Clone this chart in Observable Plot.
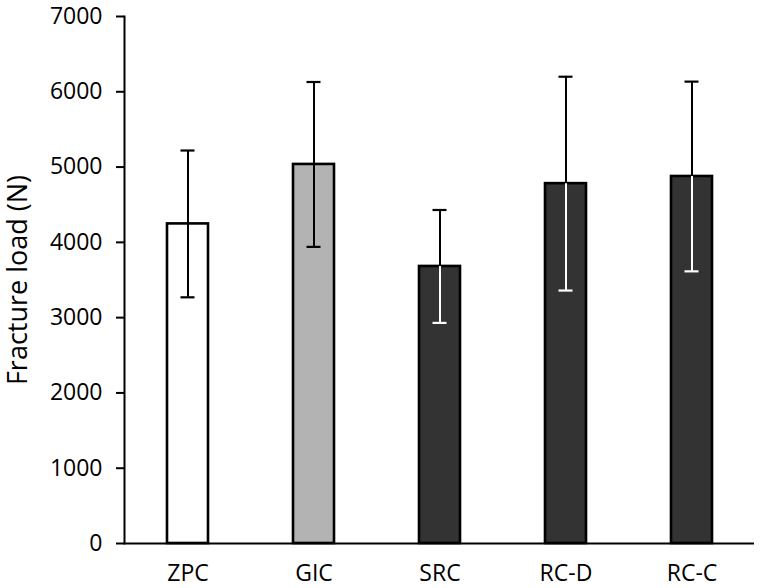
<!DOCTYPE html>
<html>
<head>
<meta charset="utf-8">
<script src="https://cdn.jsdelivr.net/npm/d3@7"></script>
<script src="https://cdn.jsdelivr.net/npm/@observablehq/plot@0.6"></script>
<style>
  html, body { margin: 0; padding: 0; background: #fff; }
  #chart { width: 760px; height: 588px; }
  svg { font-family: "Open Sans", sans-serif; overflow: visible; }
</style>
</head>
<body>
<div id="chart"></div>
<script>
const categories = ["ZPC", "GIC", "SRC", "RC-D", "RC-C"];
const means = [4245, 5035, 3680, 4780, 4875];
const sds = [975, 1095, 750, 1420, 1260];
const fills = ["#ffffff", "#b3b3b3", "#333333", "#333333", "#333333"];
const lowerBarColors = ["#000000", "#000000", "#ffffff", "#ffffff", "#ffffff"];
const yTicks = [0, 1000, 2000, 3000, 4000, 5000, 6000, 7000];
const yLabel = "Fracture load (N)";

const data = categories.map((c, i) => ({
  cat: c, mean: means[i], sd: sds[i], fill: fills[i], low: lowerBarColors[i]
}));

const chart = Plot.plot({
  width: 760,
  height: 588,
  marginTop: 16,
  marginBottom: 45,
  marginLeft: 124,
  marginRight: 6,
  style: { fontFamily: "Open Sans, sans-serif", fontSize: "23px", color: "#000", background: "#fff", overflow: "visible" },
  x: { domain: categories, paddingInner: 0.675, paddingOuter: 0.3375, label: null },
  y: { domain: [0, 7000], label: null },
  marks: [
    Plot.barY(data, { x: "cat", y: "mean", fill: "fill", stroke: "#000", strokeWidth: 2.6 }),
    Plot.ruleX(data, { x: "cat", y1: "mean", y2: d => d.mean + d.sd, stroke: "#000", strokeWidth: 2 }),
    Plot.ruleX(data, { x: "cat", y1: d => d.mean - d.sd, y2: "mean", stroke: "low", strokeWidth: 2 }),
    Plot.tickY(data, { x: "cat", y: d => d.mean + d.sd, stroke: "#000", strokeWidth: 2.2, insetLeft: 13.5, insetRight: 13.5 }),
    Plot.tickY(data, { x: "cat", y: d => d.mean - d.sd, stroke: "low", strokeWidth: 2.2, insetLeft: 13.5, insetRight: 13.5 }),
    Plot.frame({ anchor: "left", stroke: "#000", strokeWidth: 2 }),
    Plot.ruleY([0], { stroke: "#000", strokeWidth: 2 }),
    Plot.axisY({ ticks: yTicks, tickFormat: d => String(d), tickSize: 8, tickPadding: 14, label: null, stroke: "#000", strokeWidth: 2, fontSize: 23, fill: "#000" }),
    Plot.axisX({ tickSize: 0, tickPadding: 21, label: null, fontSize: 23, fill: "#000" }),
    Plot.text([yLabel], { frameAnchor: "left", textAnchor: "middle", dx: -106, rotate: -90, fontSize: 27, fill: "#000", text: d => d })
  ]
});
document.getElementById("chart").appendChild(chart);
</script>
</body>
</html>
